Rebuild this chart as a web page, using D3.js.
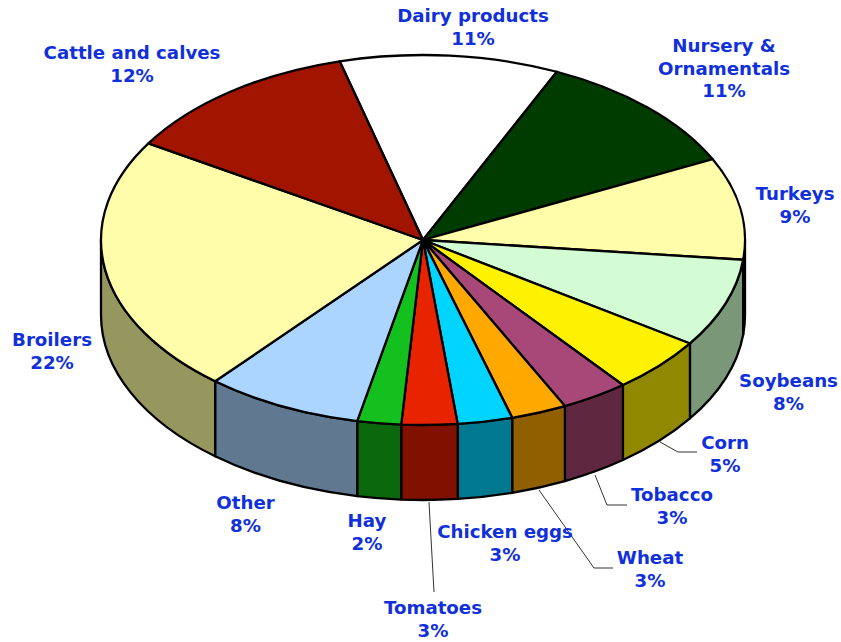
<!DOCTYPE html>
<html>
<head>
<meta charset="utf-8">
<script src="https://cdn.jsdelivr.net/npm/d3@7"></script>
<style>
html,body{margin:0;padding:0;background:#fff;}
svg{display:block;}
text{font-family:"DejaVu Sans",Verdana,sans-serif;font-weight:bold;font-size:18.2px;fill:#1030DC;text-anchor:middle;}
</style>
</head>
<body>
<svg id="chart" width="841" height="642"></svg>
<script>
// Data (clockwise, starting with Dairy products)
const categories = ["Dairy products","Nursery & Ornamentals","Turkeys","Soybeans","Corn","Tobacco","Wheat","Chicken eggs","Tomatoes","Hay","Other","Broilers","Cattle and calves"];
const shownPercent = [11,11,9,8,5,3,3,3,3,2,8,22,12];
const estimatedShare = [11.0,11.0,8.9,7.75,4.9,3.4,2.8,2.75,2.8,2.2,7.9,22.6,12.1];

// Styles
const topColors = ["#FFFFFF","#003C00","#FFFCAA","#D4FCD4","#FFF200","#A84878","#FFA800","#00D4FF","#E82400","#14C01E","#ABD4FF","#FFFCAA","#A01400"];
const sideColors = ["#808080","#001E00","#96965F","#7A9878","#908800","#602840","#906000","#007890","#801000","#0C680C","#607890","#96965F","#600C00"];

// Layout
const labelLines = [["Dairy products"],["Nursery &","Ornamentals"],["Turkeys"],["Soybeans"],["Corn"],["Tobacco"],["Wheat"],["Chicken eggs"],["Tomatoes"],["Hay"],["Other"],["Broilers"],["Cattle and calves"]];
const labelCenters = [[473,16],[724,46],[795,194],[788.5,381],[725,443],[672,495],[650,558],[505,532],[433,608],[367,521],[245.5,503],[52,340],[132,53]];
const leaderLines = [
  [[660,442],[678,452],[697,452]],
  [[595,475],[607,505],[627,505]],
  [[539,490],[594,568],[613,568]],
  [[429,502],[434,592]]
];

const svg = d3.select("#chart");
const x = d3.scaleLinear().domain([-1,1]).range([101,745]);
const y = d3.scaleLinear().domain([-1,1]).range([55,425]);
const wallDepth = d3.scaleLinear().domain([0,1]).range([0,75]);
const rx = x(1)-x(0), ry = y(1)-y(0), depth = wallDepth(1);
const rad = d => d*Math.PI/180;

const pie = d3.pie().sort(null).startAngle(rad(-15)).endAngle(rad(345)).value(d=>d);
const arcs = pie(estimatedShare);

const px = a => x(Math.sin(a));
const py = a => y(-Math.cos(a));
const rim = (a0,a1,dy,sweep) => `A${rx},${ry} 0 0 ${sweep} ${px(a1)},${py(a1)+dy}`;

// Side walls: only the part of each slice on the front half of the ellipse
const front0 = rad(90), front1 = rad(270);
const walls = arcs.map((d,i)=>{
  const a0 = Math.max(d.startAngle,front0), a1 = Math.min(d.endAngle,front1);
  return {a0,a1,i};
}).filter(w=>w.a1>w.a0);

svg.append("g").selectAll("path").data(walls).join("path")
  .attr("d",w=>`M${px(w.a0)},${py(w.a0)}${rim(w.a0,w.a1,0,1)}L${px(w.a1)},${py(w.a1)+depth}${rim(w.a1,w.a0,depth,0)}Z`)
  .attr("fill",w=>sideColors[w.i])
  .attr("stroke","#000").attr("stroke-width",2.3).attr("stroke-linejoin","round");

// Top face
svg.append("g").selectAll("path").data(arcs).join("path")
  .attr("d",d=>`M${x(0)},${y(0)}L${px(d.startAngle)},${py(d.startAngle)}${rim(d.startAngle,d.endAngle,0,1)}Z`)
  .attr("fill",(d,i)=>topColors[i])
  .attr("stroke","#000").attr("stroke-width",2.3).attr("stroke-linejoin","round");

// Leader lines
const line = d3.line();
svg.append("g").selectAll("path").data(leaderLines).join("path")
  .attr("d",line).attr("fill","none").attr("stroke","#333").attr("stroke-width",1);

// Labels
const lab = svg.append("g").selectAll("text").data(categories).join("text")
  .attr("transform",(d,i)=>`translate(${labelCenters[i][0]},${labelCenters[i][1]})`);
lab.each(function(d,i){
  const t = d3.select(this);
  const lines = labelLines[i].concat(shownPercent[i]+"%");
  lines.forEach((s,k)=>{
    t.append("tspan").attr("x",0).attr("y",k*22.4).attr("dy","0.35em").text(s);
  });
});
</script>
</body>
</html>
